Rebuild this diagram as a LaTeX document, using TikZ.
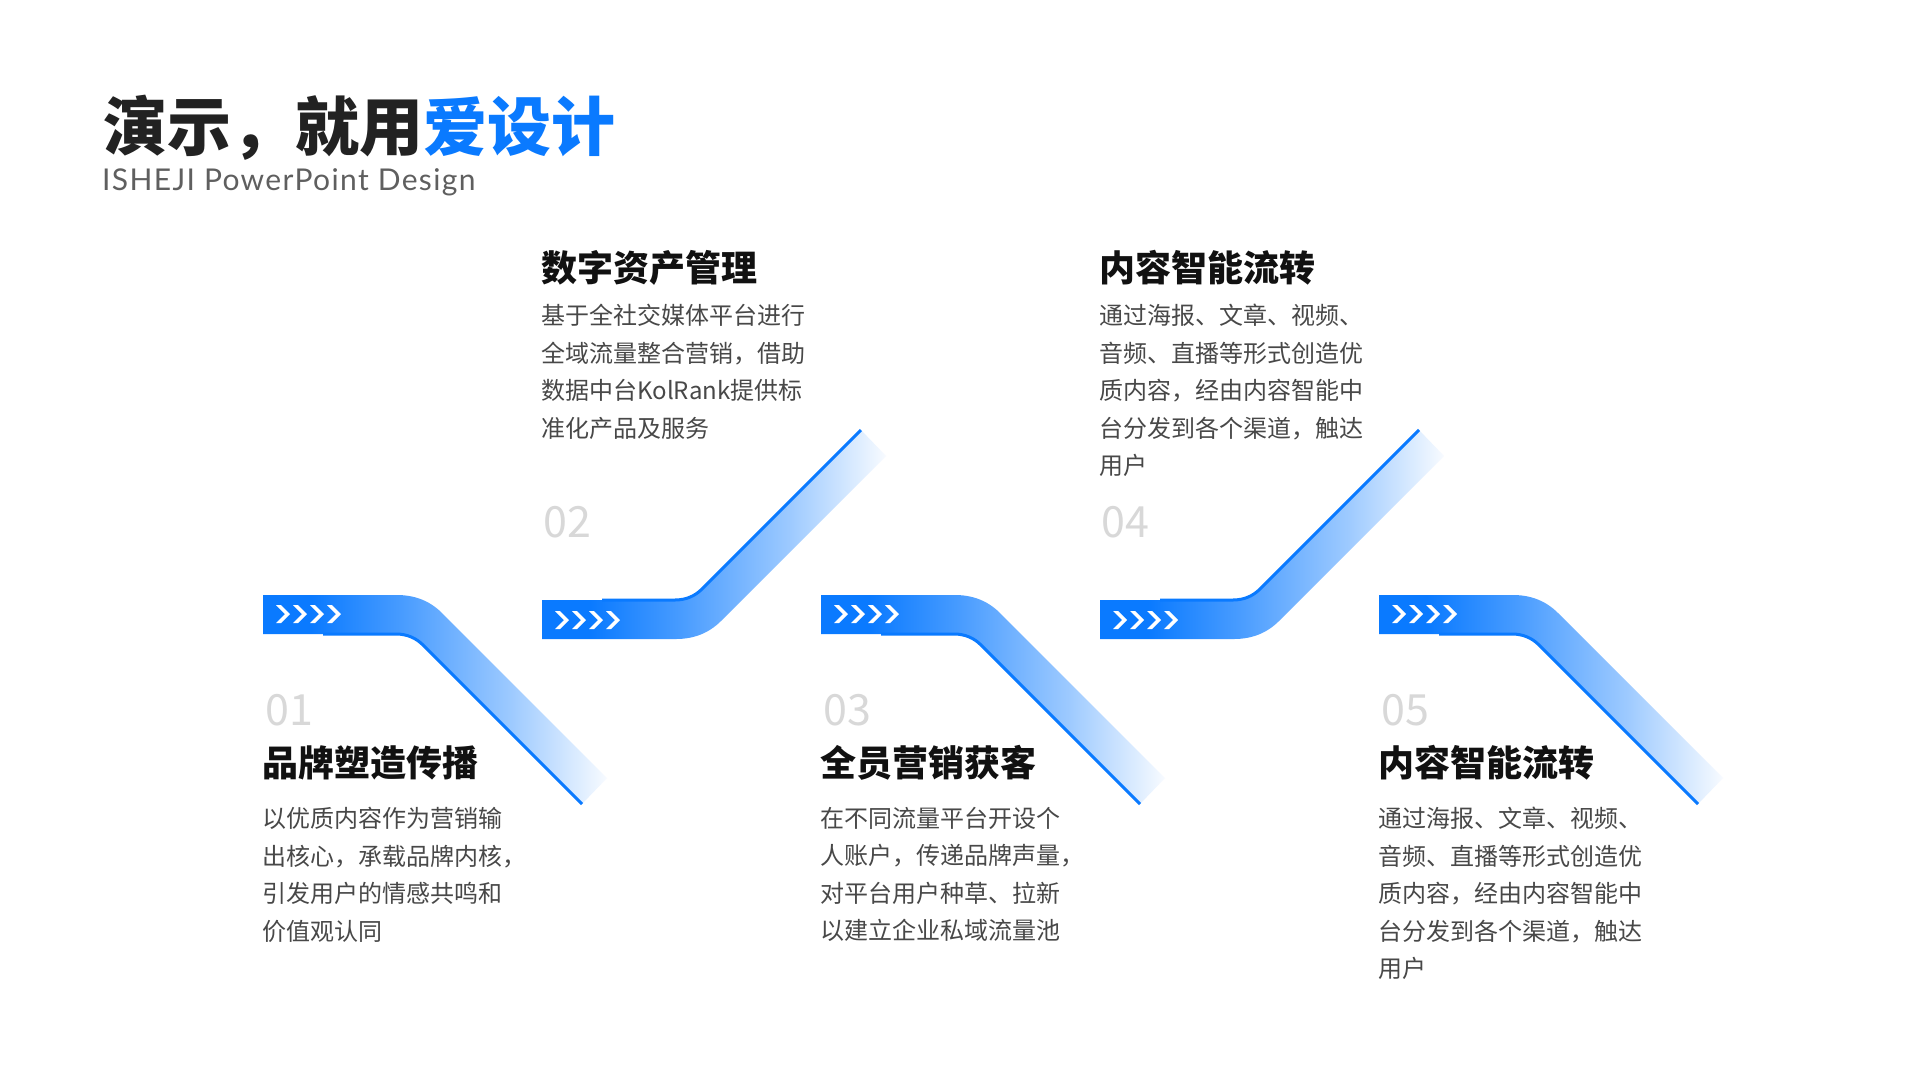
\documentclass[tikz,border=0pt]{standalone}
\usepackage{fontspec}
\setmainfont{Noto Sans CJK SC}
\newfontfamily\latfont[LetterSpace=4.5]{Lato}
\definecolor{mainblue}{RGB}{10,122,255}
\definecolor{titledark}{RGB}{34,34,34}
\definecolor{headdark}{RGB}{17,17,17}
\definecolor{bodygray}{RGB}{72,72,72}
\definecolor{subgray}{RGB}{95,95,95}
\definecolor{numgray}{RGB}{216,216,216}
\colorlet{bandB}{mainblue!75!white}
\colorlet{bandC}{mainblue!40!white}
\colorlet{bandD}{mainblue!3!white}
\pgfdeclarehorizontalshading{bandshade}{100bp}{color(0bp)=(mainblue); color(32bp)=(mainblue); color(45bp)=(bandB); color(61bp)=(bandC); color(75bp)=(bandD); color(100bp)=(bandD)}
\tikzset{
  bandline/.style={mainblue, line width=3pt},
  chev/.style={fill=white},
  titlefont/.style={font=\bfseries\fontsize{64}{64}\selectfont, text=titledark, inner sep=0pt, anchor=north west},
  subfont/.style={font=\latfont\fontsize{30}{30}\selectfont, text=subgray, inner sep=0pt, anchor=base west},
  headfont/.style={font=\bfseries\fontsize{36}{36}\selectfont, text=headdark, inner sep=0pt, anchor=north west},
  bodyfont/.style={font=\fontsize{24}{37.5}\selectfont, text=bodygray, inner sep=0pt, anchor=north west, align=left},
  numfont/.style={font=\fontsize{43}{43}\selectfont, text=numgray, inner sep=0pt, anchor=north west}
}
\newcommand\bandpath{(0,0) -- (134,0) .. controls (152,0) and (167,6) .. (179,18) -- (344,183) -- (319,209) -- (160,50) .. controls (153,43) and (144,39) .. (133,39) -- (0,39) -- cycle}
\newcommand\bandedge{\draw[bandline] (60,39) -- (133,39) .. controls (144,39) and (153,43) .. (160,50) -- (319,209);}
\newcommand\chevrow[2]{%
  \foreach \ci in {0,1,2,3}{%
    \fill[chev] ({#1+13+17*\ci},{#2-9}) -- ++(5,0) -- ++(9,9) -- ++(-9,9) -- ++(-5,0) -- ++(9,-9) -- cycle;}}
\begin{document}
\begin{tikzpicture}[x=1pt,y=-1pt]
\useasboundingbox (0,0) rectangle (1920,1080);
\fill[white] (0,0) rectangle (1920,1080);

% title
\node[titlefont] (title) at (103,95) {演示，就用\textcolor{mainblue}{爱设计}};
\node[subfont] (subtitle) at (102,190) {ISHEJI PowerPoint Design};

% bands going down (1,3,5)
\foreach \bx in {263,821,1379}{
  \begin{scope}[shift={(\bx,595)}]
    \shade[shading=bandshade] \bandpath;
    \bandedge
  \end{scope}
  \chevrow{\bx}{614}
}
% bands going up (2,4)
\foreach \bx in {542,1100}{
  \begin{scope}[shift={(\bx,639)}, yscale=-1]
    \shade[shading=bandshade] \bandpath;
    \bandedge
  \end{scope}
  \chevrow{\bx}{620}
}

% block 1
\node[numfont] (n1) at (265,694) {01};
\node[headfont] (h1) at (262,745) {品牌塑造传播};
\node[bodyfont] (b1) at (262,807) {以优质内容作为营销输\\出核心，承载品牌内核，\\引发用户的情感共鸣和\\价值观认同};

% block 2
\node[headfont] (h2) at (541,250) {数字资产管理};
\node[bodyfont] (b2) at (541,304) {基于全社交媒体平台进行\\全域流量整合营销，借助\\数据中台KolRank提供标\\准化产品及服务};
\node[numfont] (n2) at (543,506) {02};

% block 3
\node[numfont] (n3) at (823,694) {03};
\node[headfont] (h3) at (820,745) {全员营销获客};
\node[bodyfont] (b3) at (820,807) {在不同流量平台开设个\\人账户，传递品牌声量，\\对平台用户种草、拉新\\以建立企业私域流量池};

% block 4
\node[headfont] (h4) at (1099,250) {内容智能流转};
\node[bodyfont] (b4) at (1099,304) {通过海报、文章、视频、\\音频、直播等形式创造优\\质内容，经由内容智能中\\台分发到各个渠道，触达\\用户};
\node[numfont] (n4) at (1101,506) {04};

% block 5
\node[numfont] (n5) at (1381,694) {05};
\node[headfont] (h5) at (1378,745) {内容智能流转};
\node[bodyfont] (b5) at (1378,807) {通过海报、文章、视频、\\音频、直播等形式创造优\\质内容，经由内容智能中\\台分发到各个渠道，触达\\用户};
\end{tikzpicture}
\end{document}
